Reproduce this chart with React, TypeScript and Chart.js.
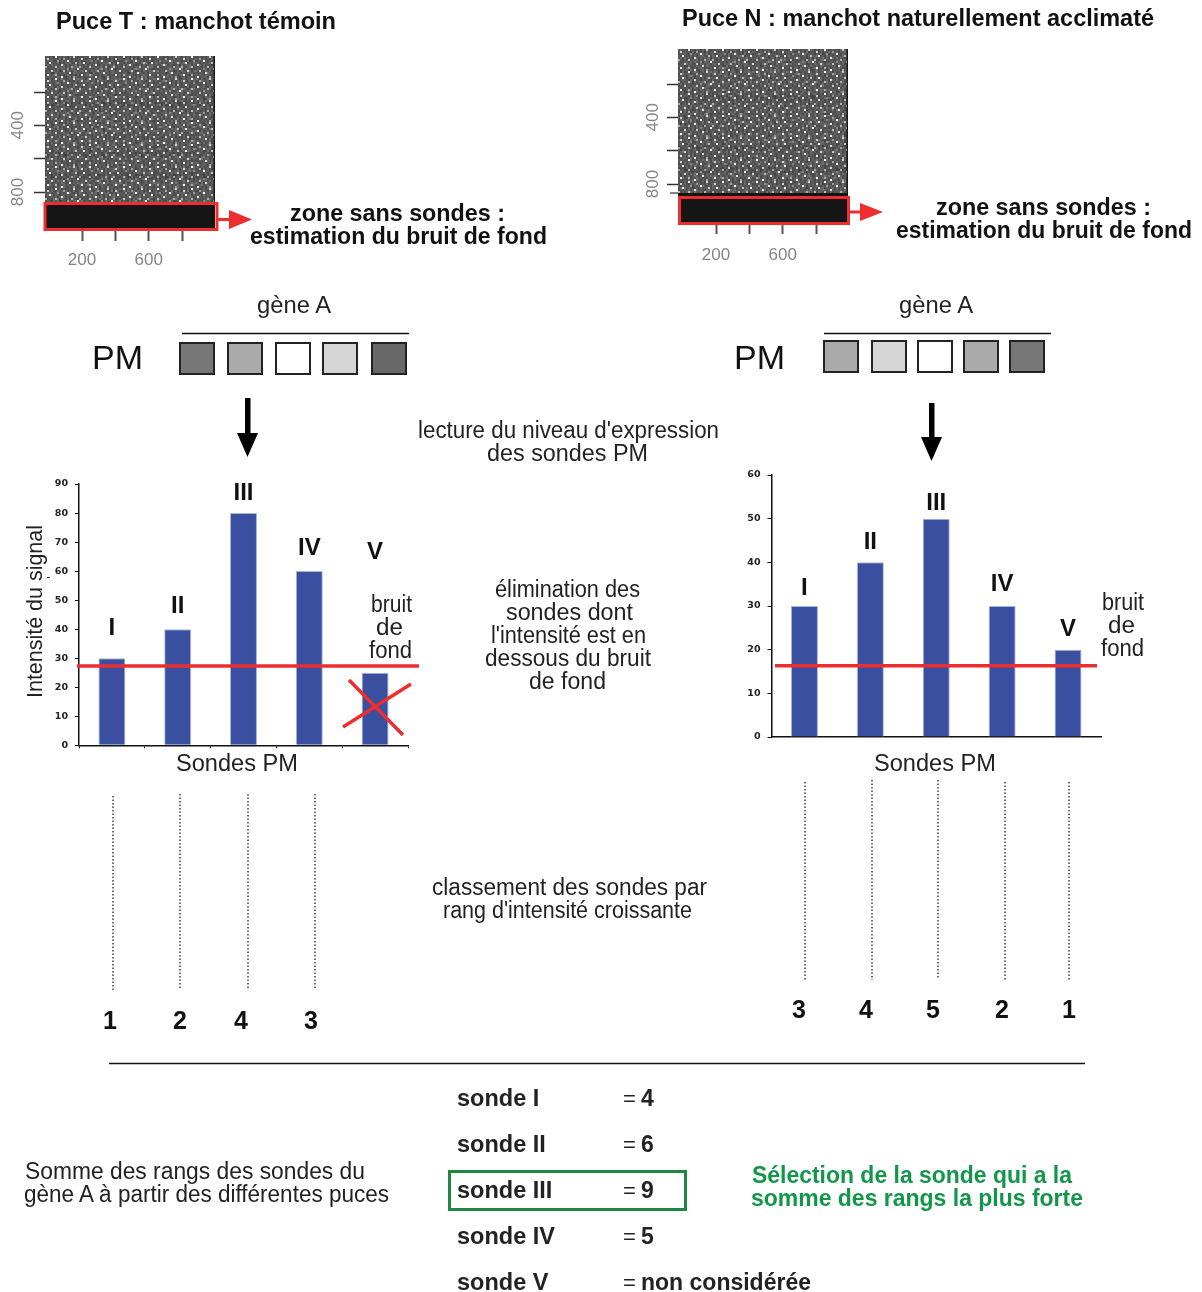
import React, { useEffect, useRef } from "react";
import { Chart, registerables } from "chart.js";

Chart.register(...registerables);

// ---------- data ----------
const categories = ["I", "II", "III", "IV", "V"];
const valuesT = [30, 40, 80, 60, 25];
const valuesN = [30, 40, 50, 30, 20];
const noiseT = 27.3;
const noiseN = 16.3;
const ranksT = ["1", "2", "4", "3"];
const ranksN = ["3", "4", "5", "2", "1"];
const probeNames = ["sonde I", "sonde II", "sonde III", "sonde IV", "sonde V"];
const rankSums = ["4", "6", "9", "5", "non considérée"];
const chipTicks = [200, 400, 600, 800];
const chipXLabels = [200, 600];
const chipYLabels = [400, 800];
const probeGreysT = ["#777777", "#aaaaaa", "#ffffff", "#d5d5d5", "#686868"];
const probeGreysN = ["#aaaaaa", "#d5d5d5", "#ffffff", "#aaaaaa", "#777777"];

// hand-written speckle tiles for the scanned chip picture
const chipTileA = [
  "3524163527416253142",
  "4136251904325162537",
  "2547318263514290361",
  "5162437152649315284",
  "3819254036172548163",
  "1425361748253169425",
  "6243518294361752031",
  "2531746025184367259",
  "4360192537426185342",
  "1752843161593240617",
  "3246519372048156324",
  "5081362495137264958",
  "2693471528360417263",
];
const chipTileB = [
  "00000900000000700",
  "07000000040000000",
  "00000030000900000",
  "00900000000000060",
  "00000000800000000",
  "50000600000005000",
  "00000000000300009",
  "00070000060000000",
  "00000000000080000",
  "09000500000000000",
  "00000000900000400",
];

const FONT = "'Liberation Sans', Arial, sans-serif";

function makeTile(rows: string[], paint: (d: number) => string) {
  const cell = 2;
  const c = document.createElement("canvas");
  c.width = rows[0].length * cell;
  c.height = rows.length * cell;
  const g = c.getContext("2d")!;
  rows.forEach((row, j) =>
    row.split("").forEach((ch, i) => {
      g.fillStyle = paint(Number(ch));
      g.fillRect(i * cell, j * cell, cell, cell);
    })
  );
  return c;
}

function chipPlugin(noProbeFrom: number, bands: number[]) {
  return {
    id: "chipPicture",
    beforeDatasetsDraw(chart: any) {
      const { ctx, chartArea: a, scales } = chart;
      const w = Math.round(a.right - a.left);
      const h = Math.round(a.bottom - a.top);
      const off = document.createElement("canvas");
      off.width = w;
      off.height = h;
      const g = off.getContext("2d")!;
      const tA = makeTile(chipTileA, (d) => {
        const v = 68 + d * 5;
        return `rgb(${v},${v},${v})`;
      });
      const tB = makeTile(chipTileB, (d) => `rgba(255,255,255,${(d / 9) * 0.95})`);
      g.fillStyle = g.createPattern(tA, "repeat")!;
      g.fillRect(0, 0, w, h);
      g.fillStyle = g.createPattern(tB, "repeat")!;
      g.fillRect(0, 0, w, h);
      bands.forEach((b) => {
        g.fillStyle = "rgba(0,0,0,0.07)";
        g.fillRect(0, scales.y.getPixelForValue(b) - a.top, w, 5);
      });
      const darkY = scales.y.getPixelForValue(noProbeFrom) - a.top;
      g.fillStyle = "#151515";
      g.fillRect(0, darkY, w, h - darkY);
      ctx.save();
      ctx.filter = "blur(0.4px)";
      ctx.drawImage(off, a.left, a.top);
      ctx.filter = "none";
      ctx.fillStyle = "#1a1a1a";
      ctx.fillRect(a.right - 1.5, a.top, 1.5, darkY);
      ctx.restore();
    },
  };
}

function ChipPanel(p: {
  left: number; top: number; width: number; height: number;
  yWidth: number; right: number; yMin: number; yMax: number; xMin: number; xMax: number;
  noProbeFrom: number; bands: number[]; xPad: number; yPad: number;
}) {
  const ref = useRef<HTMLCanvasElement>(null);
  useEffect(() => {
    const setTicks = (s: any) => {
      s.ticks = chipTicks.map((v) => ({ value: v }));
    };
    const tickFont = { family: FONT, size: 17 };
    const chart = new Chart(ref.current!, {
      type: "scatter",
      data: { datasets: [] },
      plugins: [chipPlugin(p.noProbeFrom, p.bands)],
      options: {
        animation: false,
        responsive: false,
        layout: { padding: { left: 0, right: p.right, top: 16, bottom: 0 } },
        plugins: { legend: { display: false }, tooltip: { enabled: false } },
        scales: {
          x: {
            type: "linear",
            min: p.xMin,
            max: p.xMax,
            afterBuildTicks: setTicks,
            afterFit: (s: any) => { s.height = 46; },
            border: { display: false },
            grid: { drawOnChartArea: false, tickLength: 12, tickColor: "#555", tickWidth: 2 },
            ticks: {
              autoSkip: false, maxRotation: 0, padding: p.xPad, color: "#858585", font: tickFont,
              callback: (v: any) => (chipXLabels.includes(v) ? String(v) : ""),
            },
          },
          y: {
            type: "linear",
            reverse: true,
            min: p.yMin,
            max: p.yMax,
            afterBuildTicks: setTicks,
            afterFit: (s: any) => { s.width = p.yWidth; },
            border: { display: false },
            grid: { drawOnChartArea: false, tickLength: 11, tickColor: "#333", tickWidth: 1.5 },
            ticks: {
              autoSkip: false, minRotation: 90, maxRotation: 90, crossAlign: "center",
              padding: p.yPad, color: "#858585", font: tickFont,
              callback: (v: any) => (chipYLabels.includes(v) ? String(v) : ""),
            },
          },
        },
      } as any,
    });
    return () => chart.destroy();
  }, []);
  return (
    <canvas ref={ref} width={p.width} height={p.height}
      style={{ position: "absolute", left: p.left, top: p.top, width: p.width, height: p.height }} />
  );
}

function BarPanel(p: {
  left: number; top: number; width: number; height: number;
  values: number[]; noise: number; yMax: number; lifts: number[];
  yWidth: number; right: number; padTop: number; xHeight: number;
  lineFrom: number; lineTo: number; xTicks: boolean;
}) {
  const ref = useRef<HTMLCanvasElement>(null);
  useEffect(() => {
    const annotate = {
      id: "annotate",
      afterDatasetsDraw(chart: any) {
        const { ctx, scales } = chart;
        const y = scales.y.getPixelForValue(p.noise);
        ctx.save();
        ctx.strokeStyle = "#ee2e2e";
        ctx.lineWidth = 3.5;
        ctx.beginPath();
        ctx.moveTo(p.lineFrom, y);
        ctx.lineTo(p.lineTo, y);
        ctx.stroke();
        ctx.fillStyle = "#111";
        ctx.font = `bold 24px ${FONT}`;
        ctx.textAlign = "center";
        ctx.textBaseline = "middle";
        categories.forEach((c, i) => {
          ctx.fillText(c, scales.x.getPixelForValue(i), scales.y.getPixelForValue(p.values[i]) - p.lifts[i]);
        });
        ctx.restore();
      },
    };
    const chart = new Chart(ref.current!, {
      type: "bar",
      data: {
        labels: categories,
        datasets: [{
          data: p.values,
          backgroundColor: "#3a4fa0",
          borderColor: "#aab3da",
          borderWidth: 1,
          barPercentage: 0.41,
          categoryPercentage: 1,
        }],
      },
      plugins: [annotate],
      options: {
        animation: false,
        responsive: false,
        layout: { padding: { left: 0, right: p.right, top: p.padTop, bottom: 0 } },
        plugins: { legend: { display: false }, tooltip: { enabled: false } },
        scales: {
          x: {
            afterFit: (s: any) => { s.height = p.xHeight; },
            border: { color: "#111", width: 1.5 },
            grid: {
              display: p.xTicks, drawOnChartArea: false, tickLength: 3, tickColor: "#111", tickWidth: 1,
            },
            ticks: { display: false },
          },
          y: {
            min: 0,
            max: p.yMax,
            afterFit: (s: any) => { s.width = p.yWidth; },
            border: { color: "#111", width: 1.5 },
            grid: { drawOnChartArea: false, tickLength: 4, tickColor: "#111", tickWidth: 1 },
            ticks: {
              stepSize: 10, padding: 7, color: "#222",
              font: { family: "'DejaVu Sans', sans-serif", size: 9.5, weight: "bold" },
            },
          },
        },
      } as any,
    });
    return () => chart.destroy();
  }, []);
  return (
    <canvas ref={ref} width={p.width} height={p.height}
      style={{ position: "absolute", left: p.left, top: p.top, width: p.width, height: p.height }} />
  );
}

// text, left edge, right edge, baseline
const plainNotes: [string, number, number, number][] = [
  ["gène A", 257, 331, 313],
  ["gène A", 899, 973, 313],
  ["lecture du niveau d'expression", 418, 719, 438],
  ["des sondes PM", 487, 648, 461],
  ["élimination des", 495, 640, 597],
  ["sondes dont", 506, 633, 620],
  ["l'intensité est en", 491, 646, 643],
  ["dessous du bruit", 485, 651, 666],
  ["de fond", 529, 606, 689],
  ["bruit", 371, 412, 612],
  ["de", 376, 403, 635],
  ["fond", 369, 412, 658],
  ["bruit", 1102, 1144, 610],
  ["de", 1108, 1135, 633],
  ["fond", 1101, 1144, 656],
  ["Sondes PM", 176, 298, 771],
  ["Sondes PM", 874, 996, 771],
  ["classement des sondes par", 432, 707, 895],
  ["rang d'intensité croissante", 443, 692, 918],
  ["Somme des rangs des sondes du", 25, 365, 1179],
  ["gène A à partir des différentes puces", 24, 389, 1202],
];
const boldNotes: [string, number, number, number][] = [
  ["Puce T : manchot témoin", 56, 336, 29],
  ["Puce N : manchot naturellement acclimaté", 682, 1154, 26],
  ["zone sans sondes :", 290, 505, 221],
  ["estimation du bruit de fond", 250, 547, 244],
  ["zone sans sondes :", 936, 1151, 215],
  ["estimation du bruit de fond", 896, 1192, 238],
];

const dottedT: [number, number, number][] = [[113, 796, 990], [180, 794, 990], [248, 794, 990], [315, 794, 990]];
const dottedN: [number, number, number][] = [[805, 782, 980], [872, 780, 980], [938, 780, 978], [1005, 782, 980], [1069, 782, 980]];

function Overlay() {
  const squares = (xs: number[], y: number, fills: string[], w: number) =>
    xs.map((x, i) => (
      <rect key={x} x={x} y={y} width={w} height={31} fill={fills[i]} stroke="#222" strokeWidth={2} />
    ));
  return (
    <svg width={1202} height={1292} style={{ position: "absolute", left: 0, top: 0 }}>
      {/* no-probe frames + arrows */}
      <rect x={45} y={203.5} width={172} height={26} fill="none" stroke="#ee2e2e" strokeWidth={3} />
      <path d="M217 219.5H231" stroke="#ee2e2e" strokeWidth={3} />
      <path d="M229 210L252 219.5L229 229Z" fill="#ee2e2e" />
      <rect x={679.5} y={197.5} width={169} height={26} fill="none" stroke="#ee2e2e" strokeWidth={3} />
      <path d="M849 212H862" stroke="#ee2e2e" strokeWidth={3} />
      <path d="M860 203L883 212L860 221Z" fill="#ee2e2e" />
      <path d="M670 193H678" stroke="#333" strokeWidth={1.2} />

      {/* PM probes */}
      <path d="M182 333.5H409M824 333.5H1051" stroke="#111" strokeWidth={1.5} />
      {squares([180, 228, 276, 323, 372], 343, probeGreysT, 34)}
      {squares([824, 872, 918, 964, 1010], 341, probeGreysN, 34)}
      <text x={92} y={369} fontFamily={FONT} fontSize={34} fill="#111">PM</text>
      <text x={734} y={369} fontFamily={FONT} fontSize={34} fill="#111">PM</text>

      {/* black arrows */}
      <path d="M245 398H250.5V433H258L247.5 457L237 433H245Z" fill="#000" />
      <path d="M929 403H934.5V437H942L931.5 461L921 437H929Z" fill="#000" />

      {/* red cross */}
      <path d="M343 727L411 684M349 680L403 735" stroke="#ee2e2e" strokeWidth={3.5} fill="none" />
      <path d="M47 577.5H50" stroke="#333" strokeWidth={1} />

      {/* y axis title of the left histogram */}
      <text transform="translate(42,698) rotate(-90)" textLength={173} lengthAdjust="spacingAndGlyphs"
        fontFamily={FONT} fontSize={22} fill="#222">Intensité du signal</text>

      {/* dotted links and ranks */}
      {[...dottedT, ...dottedN].map(([x, a, b]) => (
        <path key={x} d={`M${x} ${a}V${b}`} stroke="#222" strokeWidth={1.3} strokeDasharray="1.5 2" />
      ))}
      {ranksT.map((r, i) => (
        <text key={i} x={[110, 180, 241, 311][i]} y={1029} textAnchor="middle" fontFamily={FONT}
          fontWeight="bold" fontSize={25} fill="#111">{r}</text>
      ))}
      {ranksN.map((r, i) => (
        <text key={i} x={[799, 866, 933, 1002, 1069][i]} y={1018} textAnchor="middle" fontFamily={FONT}
          fontWeight="bold" fontSize={25} fill="#111">{r}</text>
      ))}

      {plainNotes.map(([t, a, b, y], i) => (
        <text key={i} x={a} y={y} textLength={b - a} lengthAdjust="spacingAndGlyphs"
          fontFamily={FONT} fontSize={23} fill="#222">{t}</text>
      ))}
      {boldNotes.map(([t, a, b, y], i) => (
        <text key={i} x={a} y={y} textLength={b - a} lengthAdjust="spacingAndGlyphs"
          fontFamily={FONT} fontWeight="bold" fontSize={23} fill="#111">{t}</text>
      ))}

      {/* summary */}
      <path d="M109 1063.5H1085" stroke="#111" strokeWidth={1.5} />
      {probeNames.map((n, i) => (
        <g key={n}>
          <text x={457} y={1106 + i * 46} fontFamily={FONT} fontWeight="bold" fontSize={23.5} fill="#222">{n}</text>
          <text x={623} y={1106 + i * 46} fontFamily={FONT} fontSize={22} fill="#222">=</text>
          <text x={641} y={1106 + i * 46} fontFamily={FONT} fontWeight="bold" fontSize={23} fill="#222"
            {...(i === 4 ? { textLength: 170, lengthAdjust: "spacingAndGlyphs" } : {})}>{rankSums[i]}</text>
        </g>
      ))}
      <rect x={449.5} y={1171.5} width={236} height={38} fill="none" stroke="#1c8a3e" strokeWidth={3} />
      <text x={752} y={1183} textLength={320} lengthAdjust="spacingAndGlyphs" fontFamily={FONT}
        fontWeight="bold" fontSize={23} fill="#12964a">Sélection de la sonde qui a la</text>
      <text x={751} y={1206} textLength={332} lengthAdjust="spacingAndGlyphs" fontFamily={FONT}
        fontWeight="bold" fontSize={23} fill="#12964a">somme des rangs la plus forte</text>
    </svg>
  );
}

export default function App() {
  return (
    <div style={{ position: "absolute", left: 0, top: 0, width: 1202, height: 1292, background: "#fff",
      overflow: "hidden", filter: "blur(0.45px)" }}>
      <ChipPanel left={0} top={40} width={240} height={235} yWidth={45} right={25}
        xMin={-22} xMax={998} yMin={-16} yMax={1022} noProbeFrom={866} bands={[260, 560, 690]} xPad={9} yPad={2} />
      <ChipPanel left={630} top={33} width={240} height={235} yWidth={48} right={22}
        xMin={-28} xMax={992} yMin={-10} yMax={1028} noProbeFrom={854} bands={[270, 570, 700]} xPad={11} yPad={0} />
      <BarPanel left={0} top={470} width={430} height={310} values={valuesT} noise={noiseT} yMax={90}
        lifts={[30, 23, 20, 23, 120]} yWidth={79} right={22} padTop={14} xHeight={34.7}
        lineFrom={77} lineTo={419} xTicks />
      <BarPanel left={730} top={460} width={380} height={320} values={valuesN} noise={noiseN} yMax={60}
        lifts={[18, 20, 15, 22, 20]} yWidth={41.5} right={9} padTop={15} xHeight={43}
        lineFrom={45} lineTo={367} xTicks={false} />
      <Overlay />
    </div>
  );
}
